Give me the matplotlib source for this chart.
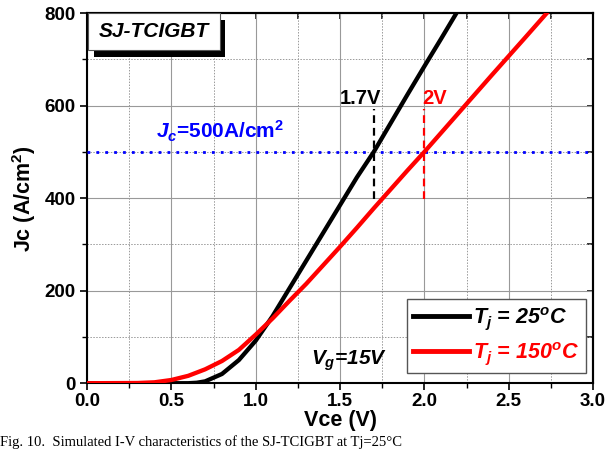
import matplotlib
matplotlib.use('Agg')
import matplotlib.pyplot as plt
import numpy as np
from matplotlib.patches import Rectangle

plt.rcParams['font.family'] = ['Liberation Sans', 'DejaVu Sans']
plt.rcParams['font.weight'] = 'bold'
plt.rcParams['mathtext.fontset'] = 'custom'
plt.rcParams['mathtext.it'] = 'Liberation Sans:italic:bold'
plt.rcParams['mathtext.rm'] = 'Liberation Sans:bold'
plt.rcParams['mathtext.bf'] = 'Liberation Sans:bold'

# Tj = 25 C
vce_25 = [0.0, 0.6, 0.65, 0.7, 0.8, 0.9, 1.0, 1.1, 1.2, 1.3, 1.4, 1.5, 1.6, 1.7, 1.8, 1.9, 2.0, 2.1, 2.2]
jc_25 = [0, 0, 1, 4, 20, 50, 92, 145, 205, 265, 325, 385, 445, 500, 562, 624, 685, 745, 806]
# Tj = 150 C
vce_150 = [0.0, 0.3, 0.4, 0.5, 0.6, 0.7, 0.8, 0.9, 1.0, 1.1, 1.2, 1.3, 1.4, 1.5, 1.6, 1.7, 1.8, 1.9, 2.0, 2.2, 2.4, 2.6, 2.75]
jc_150 = [0, 0.5, 2, 7, 16, 30, 48, 72, 105, 140, 178, 215, 255, 295, 336, 378, 419, 460, 500, 583, 666, 748, 810]

jc_ref = 500
v_25 = 1.7
v_150 = 2.0

xmaj = np.arange(0, 3.01, 0.5)
xmin = np.arange(0.25, 3.0, 0.5)
ymaj = [0, 200, 400, 600, 800]
ymin = [100, 300, 500, 700]

fig = plt.figure(figsize=(6.09, 4.5), dpi=100)
ax = fig.add_axes([0.1429, 0.1484, 0.831, 0.8227])

ax.plot(vce_25, jc_25, color='black', lw=3.1, label=r'$T_j$ = 25$^o$C', zorder=4)
ax.plot(vce_150, jc_150, color='red', lw=3.1, label=r'$T_j$ = 150$^o$C', zorder=4)

ax.axhline(jc_ref, color='blue', lw=2, linestyle=(0, (1, 2.2)), zorder=3)
ax.plot([v_25, v_25], [398, 592], color='black', lw=1.6, linestyle=(0, (3.5, 2.2)), zorder=3)
ax.plot([v_150, v_150], [398, 592], color='red', lw=1.6, linestyle=(0, (3.5, 2.2)), zorder=3)

ax.text(1.5, 604, '1.7V', fontsize=14.5, fontweight='bold', color='black')
ax.text(1.985, 604, '2V', fontsize=14.5, fontweight='bold', color='red')
ax.text(0.41, 528, r'$J_c$=500A/cm$^2$', fontsize=15, fontweight='bold', color='blue')
ax.text(1.33, 40, r'$V_g$=15V', fontsize=15, fontweight='bold', fontstyle='italic',
        color='black')

# title box with shadow
ax.add_patch(Rectangle((0.04, 705), 0.78, 80, facecolor='black', edgecolor='none', zorder=5))
ax.add_patch(Rectangle((0.007, 720), 0.78, 80, facecolor='white', edgecolor='#555555',
                       lw=0.8, zorder=6))
ax.text(0.397, 760, 'SJ-TCIGBT', fontsize=15, fontweight='bold', fontstyle='italic',
        ha='center', va='center', zorder=7)

ax.set_xlim(0, 3.0)
ax.set_ylim(0, 800)
ax.set_xticks(xmaj)
ax.set_xticks(xmin, minor=True)
ax.set_yticks(ymaj)
ax.set_yticks(ymin, minor=True)
ax.set_xticklabels(['0.0', '0.5', '1.0', '1.5', '2.0', '2.5', '3.0'])
ax.tick_params(which='major', direction='out', length=5, width=1.2, labelsize=13.5, pad=3)
ax.tick_params(axis='x', which='major', pad=2)
ax.tick_params(which='minor', direction='out', length=3.5, width=1)
for lab in ax.get_xticklabels() + ax.get_yticklabels():
    lab.set_fontweight('bold')
ax.grid(which='major', color='#999999', lw=0.8, linestyle='-')
ax.grid(which='minor', color='#999999', lw=0.7, linestyle=(0, (1.5, 1.5)))
ax.set_axisbelow(True)
for s in ax.spines.values():
    s.set_linewidth(1.5)

# top/right ticks pointing inward
top = ax.secondary_xaxis('top')
top.set_xticks(xmaj)
top.set_xticks(xmin, minor=True)
top.tick_params(which='both', direction='in', length=4.5, width=1.1, labeltop=False)
right = ax.secondary_yaxis('right')
right.set_yticks(ymaj)
right.set_yticks(ymin, minor=True)
right.tick_params(which='both', direction='in', length=4.5, width=1.1, labelright=False)
for sec in (top, right):
    for s in sec.spines.values():
        s.set_linewidth(1.5)

ax.set_xlabel('Vce (V)', fontsize=15.5, fontweight='bold', labelpad=0)
ax.set_ylabel('Jc (A/cm$^2$)', fontsize=15.5, fontweight='bold', labelpad=5)

leg = ax.legend(loc='lower right', bbox_to_anchor=(0.986, 0.027), borderaxespad=0,
                fontsize=15.5, handlelength=2.6, handletextpad=0.2, borderpad=0.3,
                labelspacing=0.35, fancybox=False, framealpha=1, edgecolor='#555555')
leg.get_frame().set_linewidth(1.0)
for txt, c in zip(leg.get_texts(), ['black', 'red']):
    txt.set_color(c)
    txt.set_fontstyle('italic')
    txt.set_fontweight('bold')
for ln in leg.get_lines():
    ln.set_linewidth(3.5)

fig.text(0.0, 0.003, 'Fig. 10.  Simulated I-V characteristics of the SJ-TCIGBT at Tj=25\u00b0C',
         fontsize=10.5, family='Liberation Serif', fontweight='normal', va='bottom')

fig.savefig('out.png', dpi=100)
